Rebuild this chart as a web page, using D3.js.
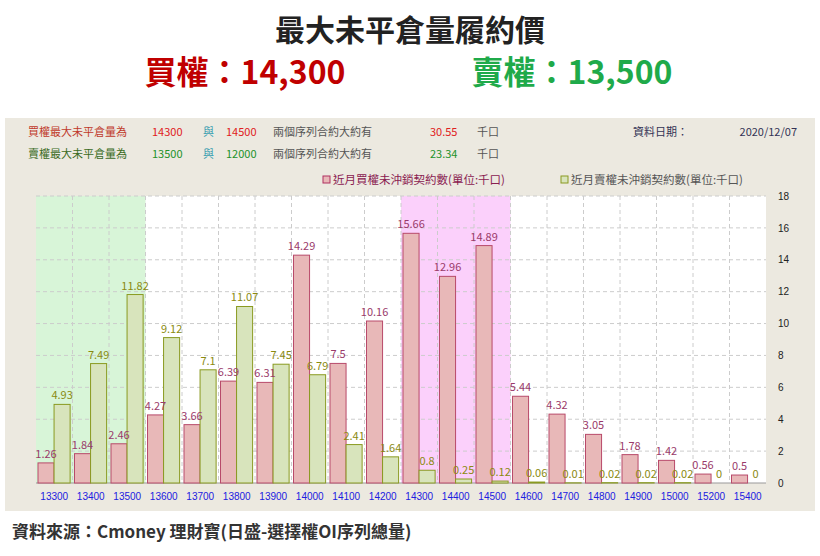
<!DOCTYPE html>
<html><head><meta charset="utf-8">
<script src="https://cdn.jsdelivr.net/npm/d3@7"></script>
<style>body{margin:0;background:#fff;font-family:"Noto Sans CJK TC","Noto Sans",sans-serif}</style>
</head><body><div id="chart"></div>
<script>
const strikes = ["13300","13400","13500","13600","13700","13800","13900","14000","14100","14200","14300","14400","14500","14600","14700","14800","14900","15000","15200","15400"];
const callOI = [1.26,1.84,2.46,4.27,3.66,6.39,6.31,14.29,7.5,10.16,15.66,12.96,14.89,5.44,4.32,3.05,1.78,1.42,0.56,0.5];
const putOI = [4.93,7.49,11.82,9.12,7.1,11.07,7.45,6.79,2.41,1.64,0.8,0.25,0.12,0.06,0.01,0.02,0.02,0.02,0,0];
const yTicks = [0,2,4,6,8,10,12,14,16,18];

const width = 820, height = 556;
const svg = d3.select("#chart").append("svg").attr("width", width).attr("height", height);

// Titles
svg.append("text").attr("x", 410).attr("y", 41).attr("text-anchor", "middle")
  .attr("font-size", 30).attr("font-weight", "bold").attr("fill", "#222").text("最大未平倉量履約價");
svg.append("text").attr("x", 245).attr("y", 84).attr("text-anchor", "middle")
  .attr("font-size", 32).attr("font-weight", "bold").attr("fill", "#c00000").text("買權：14,300");
svg.append("text").attr("x", 572).attr("y", 84).attr("text-anchor", "middle")
  .attr("font-size", 32).attr("font-weight", "bold").attr("fill", "#1faa4a").text("賣權：13,500");

// Panel
svg.append("rect").attr("x", 5).attr("y", 118).attr("width", 810).attr("height", 393).attr("fill", "#ece9e0");

const info = svg.append("g").attr("font-size", 11);
function row(y, c, a, b, v, lbl) {
  info.append("text").attr("x", 28).attr("y", y).attr("fill", c === "r" ? "#c0392b" : "#3a6b1e").text(lbl);
  const col = c === "r" ? "#e02020" : "#22922a";
  info.append("text").attr("x", 152).attr("y", y).attr("fill", col).text(a);
  info.append("text").attr("x", 203).attr("y", y).attr("fill", "#3aa0b0").text("與");
  info.append("text").attr("x", 226).attr("y", y).attr("fill", col).text(b);
  info.append("text").attr("x", 273).attr("y", y).attr("fill", "#555").text("兩個序列合約大約有");
  info.append("text").attr("x", 430).attr("y", y).attr("fill", col).text(v);
  info.append("text").attr("x", 477).attr("y", y).attr("fill", "#555").text("千口");
}
row(136, "r", "14300", "14500", "30.55", "買權最大未平倉量為");
row(158, "g", "13500", "12000", "23.34", "賣權最大未平倉量為");
info.append("text").attr("x", 633).attr("y", 136).attr("fill", "#335").text("資料日期：");
info.append("text").attr("x", 797).attr("y", 136).attr("fill", "#335").attr("text-anchor", "end").text("2020/12/07");

// Legend
const lg = svg.append("g").attr("font-size", 11.5).attr("fill", "#444");
lg.append("rect").attr("x", 323).attr("y", 176).attr("width", 7).attr("height", 7).attr("fill", "#e8b8b8").attr("stroke", "#b03060");
lg.append("text").attr("x", 333).attr("y", 184).attr("fill", "#8a2050").text("近月買權未沖銷契約數(單位:千口)");
lg.append("rect").attr("x", 561).attr("y", 176).attr("width", 7).attr("height", 7).attr("fill", "#d8e4bc").attr("stroke", "#8a9a20");
lg.append("text").attr("x", 571).attr("y", 184).attr("fill", "#555").text("近月賣權未沖銷契約數(單位:千口)");

// Plot
const L = 36, R = 766, T = 196, B = 483;
const x = d3.scaleBand().domain(strikes).range([L, R]);
const y = d3.scaleLinear().domain([0, 18]).range([B, T]);
svg.append("rect").attr("x", L).attr("y", T).attr("width", R - L).attr("height", B - T).attr("fill", "#fff");
svg.append("rect").attr("x", x("13300")).attr("y", T).attr("width", x.bandwidth() * 3).attr("height", B - T).attr("fill", "#d8f5d8");
svg.append("rect").attr("x", x("14300")).attr("y", T).attr("width", x.bandwidth() * 3).attr("height", B - T).attr("fill", "#fbd0fb");

const grid = svg.append("g").attr("stroke", "#ccc").attr("stroke-dasharray", "4,3");
yTicks.slice(1).forEach(t => grid.append("line").attr("x1", L).attr("x2", R).attr("y1", y(t)).attr("y2", y(t)));
strikes.slice(1).forEach(s => grid.append("line").attr("x1", x(s)).attr("x2", x(s)).attr("y1", T).attr("y2", B));
svg.append("line").attr("x1", L).attr("x2", R).attr("y1", B).attr("y2", B).attr("stroke", "#999");

const bw = x.bandwidth() * 0.44;
svg.selectAll(".c").data(strikes).enter().append("rect")
  .attr("x", d => x(d) + 2).attr("y", (d, i) => y(callOI[i]))
  .attr("width", bw).attr("height", (d, i) => B - y(callOI[i]))
  .attr("fill", "#e8b8b8").attr("stroke", "#b84a6a").attr("stroke-width", 1);
svg.selectAll(".p").data(strikes).enter().append("rect")
  .attr("x", d => x(d) + 2 + bw).attr("y", (d, i) => y(putOI[i]))
  .attr("width", bw).attr("height", (d, i) => B - y(putOI[i]))
  .attr("fill", "#d8e4bc").attr("stroke", "#8a9a20").attr("stroke-width", 1);

svg.selectAll(".cl").data(strikes).enter().append("text")
  .attr("x", d => x(d) + 2 + bw / 2).attr("y", (d, i) => y(callOI[i]) - 5)
  .attr("text-anchor", "middle").attr("font-size", 11).attr("fill", "#9a3a6a")
  .text((d, i) => callOI[i]);
svg.selectAll(".pl").data(strikes).enter().append("text")
  .attr("x", d => x(d) + 2 + bw * 1.5).attr("y", (d, i) => y(putOI[i]) - 5)
  .attr("text-anchor", "middle").attr("font-size", 11).attr("fill", "#8a8a10")
  .text((d, i) => putOI[i]);

const ax = svg.append("g").attr("transform", `translate(${R},0)`)
  .call(d3.axisRight(y).tickValues(yTicks).tickSize(0).tickPadding(12));
ax.select(".domain").remove();
ax.selectAll("text").attr("font-size", 10).attr("fill", "#222");

const bx = svg.append("g").attr("transform", `translate(0,${B})`)
  .call(d3.axisBottom(x).tickSize(0).tickPadding(10));
bx.select(".domain").remove();
bx.selectAll("text").attr("font-size", 10).attr("fill", "#2020e0");

svg.append("text").attr("x", 12).attr("y", 538).attr("font-size", 17).attr("font-weight", "bold")
  .attr("fill", "#333").text("資料來源：Cmoney 理財寶(日盛-選擇權OI序列總量)");
</script></body></html>
